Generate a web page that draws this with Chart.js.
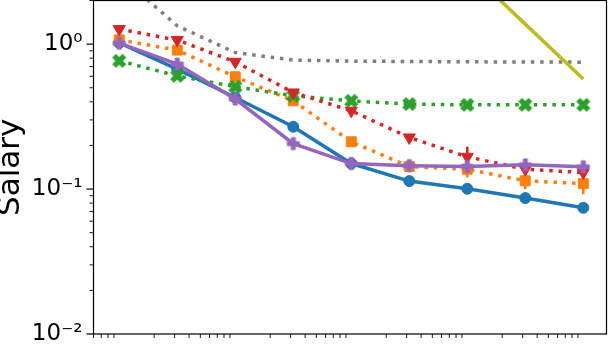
<!DOCTYPE html>
<html><head><meta charset="utf-8">
<style>html,body{margin:0;padding:0;background:#fff}#wrap{width:608px;height:347px}</style>
<script src="https://cdn.jsdelivr.net/npm/chart.js@4"></script>
</head><body><div id="wrap"><canvas id="c" width="608" height="347"></canvas></div>
<script>
// ---- data ----
const xValues = [1, 3.162, 10, 31.62, 100, 316.2, 1000, 3162, 10000];
const seriesBlue   = [1.02, 0.672, 0.428, 0.269, 0.150, 0.1135, 0.1005, 0.0867, 0.0743];
const seriesOrange = [1.07, 0.909, 0.595, 0.406, 0.212, 0.143, 0.137, 0.114, 0.109];
const seriesGreen  = [0.767, 0.604, 0.508, 0.440, 0.406, 0.386, 0.381, 0.381, 0.381];
const seriesRed    = [1.27, 1.066, 0.755, 0.464, 0.347, 0.227, 0.167, 0.137, 0.130];
const seriesPurple = [1.016, 0.728, 0.418, 0.206, 0.150, 0.145, 0.143, 0.147, 0.1425];
const seriesGray   = [3.0, 1.337, 0.875, 0.776, 0.763, 0.759, 0.755, 0.753, 0.751];
const seriesOlive  = [null, null, null, null, null, null, 3.29, 1.374, 0.574];
const errOrange = [0, 0, 0, 0, 0, 0, 0.017, 0.014, 0.017];
const errRed    = [0, 0, 0, 0, 0, 0, 0.029, 0.010, 0.010];
const errPurple = [0, 0, 0, 0, 0, 0, 0, 0.010, 0];
const yTickValues = [0.01, 0.1, 1];
const yTickLabels = ['10⁻²', '10⁻¹', '10⁰'];
const yLabel = 'Salary';

// ---- marker images ----
function markerCanvas(color, size, k, rot) {
  const c = document.createElement('canvas');
  c.width = size; c.height = size;
  const g = c.getContext('2d');
  g.translate(size / 2, size / 2);
  g.rotate(rot);
  const pts = [[-1,-3],[1,-3],[1,-1],[3,-1],[3,1],[1,1],[1,3],[-1,3],[-1,1],[-3,1],[-3,-1],[-1,-1]];
  g.beginPath();
  pts.forEach((p, i) => { const X = p[0] * k, Y = p[1] * k; i ? g.lineTo(X, Y) : g.moveTo(X, Y); });
  g.closePath();
  g.fillStyle = color;
  g.strokeStyle = color;
  g.lineWidth = 1;
  g.fill();
  g.stroke();
  return c;
}
const xMarker = markerCanvas('#2ca02c', 18, 2.25, Math.PI / 4);
const pMarker = markerCanvas('#9467bd', 16, 2.0, 0);

const toXY = arr => arr.map((v, i) => ({ x: xValues[i], y: v }));
const dotted = [3.5, 5.8];

const specs = [
  { data: seriesBlue,   color: '#1f77b4', dash: [],     style: 'circle',   r: 5.5 },
  { data: seriesOrange, color: '#ff7f0e', dash: dotted, style: 'rect',     r: 7, err: errOrange },
  { data: seriesGreen,  color: '#2ca02c', dash: dotted, style: xMarker,    r: 7 },
  { data: seriesRed,    color: '#d62728', dash: dotted, style: 'triangle', r: 7, rot: 180, err: errRed },
  { data: seriesPurple, color: '#9467bd', dash: [],     style: pMarker,    r: 6, err: errPurple },
  { data: seriesGray,   color: '#7f7f7f', dash: dotted, style: 'circle',   r: 0 },
  { data: seriesOlive,  color: '#bcbd22', dash: [],     style: 'circle',   r: 0 }
];
const N = specs.length;
const datasets = specs.map((s, i) => ({
  data: toXY(s.data),
  err: s.err,
  borderColor: s.color,
  backgroundColor: s.color,
  borderWidth: 3.5,
  borderDash: s.dash,
  borderCapStyle: 'butt',
  pointStyle: s.style,
  pointRadius: s.r,
  pointRotation: s.rot || 0,
  pointBorderWidth: 1,
  pointBorderColor: s.color,
  pointBackgroundColor: s.color,
  tension: 0,
  spanGaps: false,
  clip: 0,
  order: N - i
}));

const errPlugin = {
  id: 'errbars',
  beforeDatasetDraw(chart, args) {
    const ds = chart.data.datasets[args.index];
    if (!ds.err) return;
    const ctx = chart.ctx, ys = chart.scales.y, ca = chart.chartArea;
    ctx.save();
    ctx.beginPath(); ctx.rect(ca.left, ca.top, ca.right - ca.left, ca.bottom - ca.top); ctx.clip();
    ctx.strokeStyle = ds.borderColor; ctx.lineWidth = 2.6; ctx.setLineDash([]);
    ds.data.forEach((d, i) => {
      const e = ds.err[i];
      if (!e || d.y == null) return;
      const px = args.meta.data[i].x;
      ctx.beginPath();
      ctx.moveTo(px, ys.getPixelForValue(d.y + e));
      ctx.lineTo(px, ys.getPixelForValue(d.y - e));
      ctx.stroke();
    });
    ctx.restore();
  }
};

const framePlugin = {
  id: 'frame',
  afterDraw(chart) {
    const ctx = chart.ctx, ca = chart.chartArea, xs = chart.scales.x, ys = chart.scales.y;
    ctx.save();
    ctx.setLineDash([]);
    ctx.strokeStyle = '#000';
    ctx.lineWidth = 1.2;
    ctx.strokeRect(ca.left, ca.top, ca.right - ca.left, ca.bottom - ca.top);
    for (let k = -3; k <= 1; k++) for (let m = 1; m <= 9; m++) {
      const v = m * Math.pow(10, k);
      if (v < ys.min * 0.999 || v > ys.max * 1.001) continue;
      const py = ys.getPixelForValue(v);
      const len = m === 1 ? 7 : 4;
      ctx.lineWidth = m === 1 ? 1.2 : 0.9;
      ctx.beginPath(); ctx.moveTo(ca.left, py); ctx.lineTo(ca.left - len, py); ctx.stroke();
    }
    ctx.lineWidth = 0.9;
    for (let k = -1; k <= 4; k++) for (let m = 2; m <= 9; m++) {
      const v = m * Math.pow(10, k);
      if (v < xs.min || v > xs.max) continue;
      const px = xs.getPixelForValue(v);
      ctx.beginPath(); ctx.moveTo(px, ca.bottom); ctx.lineTo(px, ca.bottom + 4); ctx.stroke();
    }
    ctx.restore();
  }
};

new Chart(document.getElementById('c'), {
  type: 'line',
  data: { datasets },
  options: {
    responsive: false,
    animation: false,
    events: [],
    layout: { autoPadding: false, padding: { left: 0, right: 1.5, top: 0.5, bottom: 0 } },
    plugins: { legend: { display: false }, tooltip: { enabled: false } },
    scales: {
      x: {
        type: 'logarithmic',
        min: Math.pow(10, -0.2),
        max: Math.pow(10, 4.2),
        grid: { display: false },
        border: { display: false },
        ticks: { display: false },
        afterFit: s => { s.height = 13; s.paddingLeft = 0; s.paddingRight = 0; }
      },
      y: {
        type: 'logarithmic',
        min: 0.01,
        max: 2,
        grid: { display: false, drawTicks: false },
        border: { display: false },
        afterBuildTicks: s => { s.ticks = yTickValues.map(v => ({ value: v, major: true })); },
        ticks: {
          autoSkip: false,
          padding: 11,
          color: '#000',
          font: { family: 'DejaVu Sans', size: 23 },
          callback: v => { const i = yTickValues.findIndex(t => Math.abs(t - v) / t < 1e-6); return i >= 0 ? yTickLabels[i] : ''; }
        },
        title: {
          display: true,
          text: yLabel,
          color: '#000',
          font: { family: 'DejaVu Sans', size: 31 },
          padding: { top: -8, bottom: 0 }
        },
        afterFit: s => { s.width = 93.5; s.paddingTop = 0; s.paddingBottom = 0; }
      }
    }
  },
  plugins: [errPlugin, framePlugin]
});
</script>
</body></html>
